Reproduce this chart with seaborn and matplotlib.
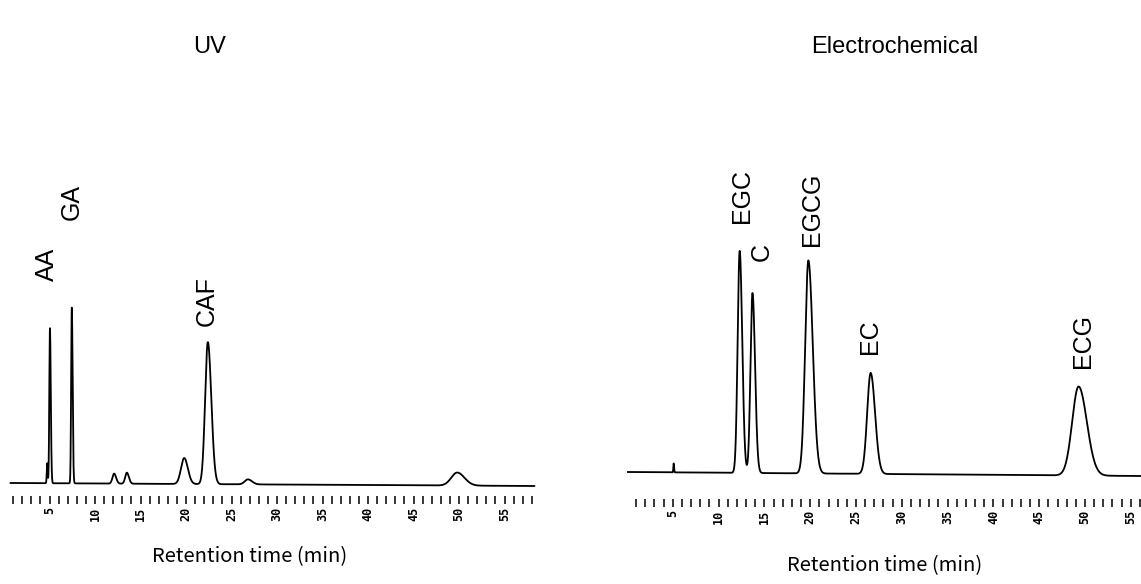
import numpy as np
import matplotlib
matplotlib.use("Agg")
import matplotlib.pyplot as plt
import seaborn as sns
import pandas as pd
from matplotlib.ticker import FixedLocator, FuncFormatter

sns.set_theme(style="white")
plt.rcParams["font.family"] = ["Liberation Sans", "DejaVu Sans"]
plt.rcParams["text.color"] = "black"
plt.rcParams["xtick.color"] = "black"

# ---- UV detector peak table (retention time min, height, left/right sigma min)
uv_rt = [4.75, 5.05, 7.45, 12.1, 13.5, 19.8, 22.4, 26.8, 49.8]
uv_height = [20, 155, 176, 10, 11, 26, 142, 5, 13]
uv_sig_l = [0.05, 0.07, 0.07, 0.18, 0.18, 0.35, 0.30, 0.35, 0.65]
uv_sig_r = [0.05, 0.09, 0.09, 0.22, 0.22, 0.40, 0.38, 0.45, 0.80]
uv_labels = ["AA", "GA", "CAF"]
uv_label_rt = [4.7, 7.5, 22.3]
uv_label_y = [219, 281, 182]
uv_baseline = [0.0, -3.0]          # response at start / end of run

# ---- Electrochemical detector peak table
ec_rt = [5.1, 12.3, 13.7, 19.8, 26.6, 49.3]
ec_height = [9, 222, 180, 213, 101, 89]
ec_sig_l = [0.04, 0.22, 0.22, 0.35, 0.38, 0.70]
ec_sig_r = [0.04, 0.28, 0.28, 0.48, 0.48, 0.90]
ec_labels = ["EGC", "C", "EGCG", "EC", "ECG"]
ec_label_rt = [12.55, 14.7, 20.2, 26.5, 49.8]
ec_label_y = [276, 220, 263, 135, 131]
ec_baseline = [0.0, -4.0]

titles = ["UV", "Electrochemical"]
xlabel = "Retention time (min)"


def trace(t, rt, h, sl, sr, base):
    y = np.interp(t, [t[0], t[-1]], base)
    for r, hh, a, b in zip(rt, h, sl, sr):
        s = np.where(t < r, a, b)
        y = y + hh * np.exp(-0.5 * ((t - r) / s) ** 2)
    return y


W, H = 1141, 584
fig = plt.figure(figsize=(W / 100, H / 100), dpi=100)


def px_axes(x0, x1, ytop, ybot):
    return fig.add_axes([x0 / W, 1 - ybot / H, (x1 - x0) / W, (ybot - ytop) / H])


def style_axis(ax, tmax):
    for s in ax.spines.values():
        s.set_visible(False)
    ax.set_yticks([])
    ax.xaxis.set_major_locator(FixedLocator(np.arange(5, tmax + 0.1, 5)))
    ax.xaxis.set_minor_locator(FixedLocator([m for m in range(1, int(tmax) + 1) if m % 5]))
    ax.xaxis.set_major_formatter(FuncFormatter(lambda v, p: f"{int(v)}"))
    ax.tick_params(axis="x", which="both", direction="out", length=5.5, width=1.1,
                   color="black", bottom=True, pad=2)
    for lab in ax.get_xticklabels():
        lab.set_rotation(90)
        lab.set_fontfamily("DejaVu Sans Mono")
        lab.set_fontsize(8.5)
        lab.set_fontweight("bold")
        lab.set_va("top")
    ax.set_xlabel("")
    ax.set_ylabel("")
    ax.patch.set_alpha(0)


# ---- UV panel
t_uv = np.linspace(0.7, 58.3, 4000)
uv_df = pd.DataFrame({"t": t_uv, "y": trace(t_uv, uv_rt, uv_height, uv_sig_l, uv_sig_r, uv_baseline)})
ax1 = px_axes(4, 4 + 58.6 * 9.1, 100, 496)
sns.lineplot(data=uv_df, x="t", y="y", ax=ax1, color="black", lw=1.3)
ax1.set_xlim(0, 58.6)
ax1.set_ylim(-13, 383)
style_axis(ax1, 58)
for lab, r, yy in zip(uv_labels, uv_label_rt, uv_label_y):
    ax1.text(r, yy, lab, rotation=90, ha="center", va="center", fontsize=18,
             family=["Liberation Sans Narrow", "Liberation Sans"])

# ---- Electrochemical panel
t_ec = np.linspace(0.0, 56.1, 4000)
ec_df = pd.DataFrame({"t": t_ec, "y": trace(t_ec, ec_rt, ec_height, ec_sig_l, ec_sig_r, ec_baseline)})
ax2 = px_axes(627, 627 + 56.1 * 9.16, 100, 499)
sns.lineplot(data=ec_df, x="t", y="y", ax=ax2, color="black", lw=1.3)
ax2.set_xlim(0, 56.1)
ax2.set_ylim(-27, 372)
style_axis(ax2, 56)
for lab, r, yy in zip(ec_labels, ec_label_rt, ec_label_y):
    ax2.text(r, yy, lab, rotation=90, ha="center", va="center", fontsize=18,
             family=["Liberation Sans Narrow", "Liberation Sans"])

# ---- titles and axis captions
fig.text(210 / W, 1 - 47 / H, titles[0], ha="center", va="center", fontsize=17)
fig.text(895 / W, 1 - 47 / H, titles[1], ha="center", va="center", fontsize=17)
fig.text(250 / W, 1 - 557 / H, xlabel, ha="center", va="center", fontsize=14.5,
         family=["Noto Sans CJK JP", "DejaVu Sans"])
fig.text(885 / W, 1 - 566 / H, xlabel, ha="center", va="center", fontsize=14.5,
         family=["Noto Sans CJK JP", "DejaVu Sans"])

fig.savefig("out.png", dpi=100, facecolor="white")
